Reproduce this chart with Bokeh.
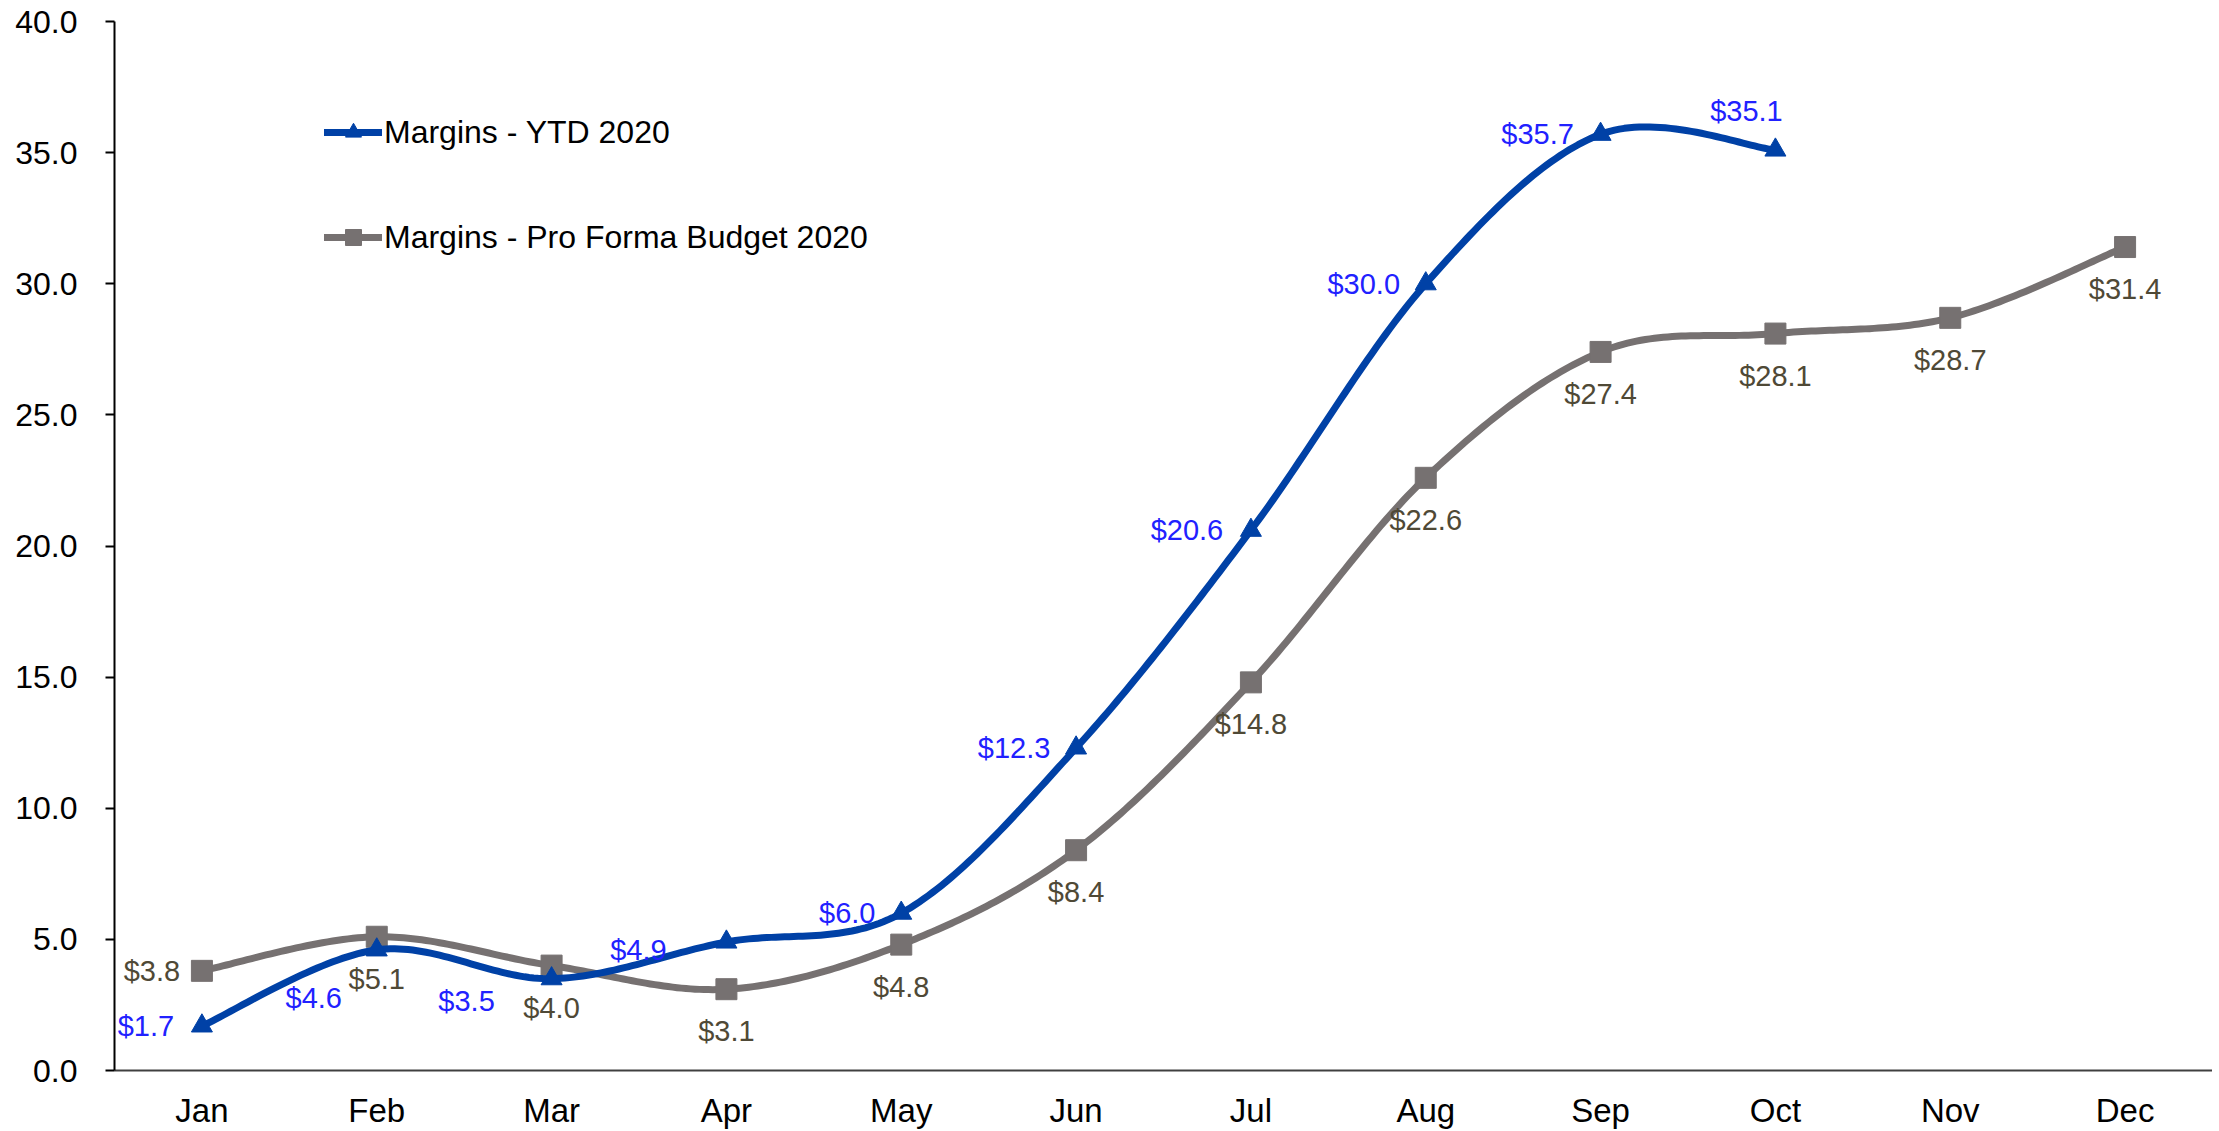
import numpy as np
from bokeh.plotting import figure
from bokeh.models import (Range1d, FactorRange, FixedTicker, NumeralTickFormatter,
                          ColumnDataSource, Legend, LegendItem)
from bokeh.core.properties import value
from bokeh.embed import file_html
from bokeh.resources import INLINE

# ---------------- data ----------------
months = ["Jan", "Feb", "Mar", "Apr", "May", "Jun", "Jul", "Aug", "Sep", "Oct", "Nov", "Dec"]
ytd_2020 = [1.7, 4.6, 3.5, 4.9, 6.0, 12.3, 20.6, 30.0, 35.7, 35.1]
budget_2020 = [3.8, 5.1, 4.0, 3.1, 4.8, 8.4, 14.8, 22.6, 27.4, 28.1, 28.7, 31.4]
y_ticks = [0, 5, 10, 15, 20, 25, 30, 35, 40]
series_names = ["Margins - YTD 2020", "Margins - Pro Forma Budget 2020"]

# label placement (screen px: dx, dy; +dy is downward) -- layout only
ytd_label_offsets = [(-56, 0), (-63, 48), (-85, 22), (-88, 8), (-54, 0),
                     (-62, 0), (-64, 0), (-62, 0), (-63, 0), (-29, -39)]
budget_label_offsets = [(-50, 0)] + [(0, 42)] * 11

# ---------------- styles ----------------
FONT = "Liberation Sans"
BLUE_LINE = "#0041A6"
BLUE_TEXT = "#2121FF"
GRAY_LINE = "#767171"
GRAY_TEXT = "#4F4936"


def smooth_curve(xs, ys, n=40):
    """Excel-like smoothed line (Catmull-Rom cubic Bezier segments)."""
    P = np.column_stack([xs, ys]).astype(float)
    m = len(P)
    out = []
    for i in range(m - 1):
        p0 = P[max(i - 1, 0)]
        p1 = P[i]
        p2 = P[i + 1]
        p3 = P[min(i + 2, m - 1)]
        c1 = p1 + (p2 - p0) / 6.0
        c2 = p2 - (p3 - p1) / 6.0
        t = np.linspace(0, 1, n)[:, None]
        seg = ((1 - t) ** 3) * p1 + 3 * ((1 - t) ** 2) * t * c1 + 3 * (1 - t) * t ** 2 * c2 + t ** 3 * p2
        if i > 0:
            seg = seg[1:]
        out.append(seg)
    arr = np.vstack(out)
    return arr[:, 0], arr[:, 1]


p = figure(width=2212, height=1131,
           x_range=FactorRange(*months, range_padding=0),
           y_range=Range1d(0, 40),
           output_backend="svg", toolbar_location=None,
           min_border_left=114, min_border_right=0,
           min_border_top=21, min_border_bottom=57)
p.outline_line_color = None
p.xgrid.grid_line_color = None
p.ygrid.grid_line_color = None
p.background_fill_color = "white"
p.border_fill_color = "white"


def add_series(vals, color, text_color, marker, offsets):
    xc = [i + 0.5 for i in range(len(vals))]
    sx, sy = smooth_curve(xc, vals)
    line = p.line(sx, sy, line_color=color, line_width=7,
                  line_join="round", line_cap="round")
    src = ColumnDataSource(dict(
        x=months[:len(vals)], y=vals,
        lbl=["$%.1f" % v for v in vals],
        dx=[o[0] for o in offsets[:len(vals)]],
        dy=[o[1] for o in offsets[:len(vals)]],
    ))
    mk = p.scatter("x", "y", source=src, marker=marker, size=21,
                   fill_color=color, line_color=color, line_width=1)
    p.text("x", "y", text="lbl", source=src, x_offset="dx", y_offset="dy",
           text_align="center", text_baseline="middle",
           text_font=value(FONT), text_font_size="29px", text_color=text_color)
    return line, mk


b_line, b_mk = add_series(budget_2020, GRAY_LINE, GRAY_TEXT, "square", budget_label_offsets)
y_line, y_mk = add_series(ytd_2020, BLUE_LINE, BLUE_TEXT, "triangle", ytd_label_offsets)

# axes
p.yaxis.ticker = FixedTicker(ticks=y_ticks)
p.yaxis.formatter = NumeralTickFormatter(format="0.0")
p.yaxis.major_label_text_font = FONT
p.yaxis.major_label_text_font_size = "32px"
p.yaxis.major_label_text_color = "black"
p.yaxis.major_tick_out = 9
p.yaxis.major_tick_in = 0
p.yaxis.minor_tick_out = 0
p.yaxis.minor_tick_in = 0
p.yaxis.major_tick_line_width = 2
p.yaxis.axis_line_width = 2
p.yaxis.axis_line_color = "black"
p.yaxis.major_tick_line_color = "black"
p.yaxis.major_label_standoff = 28

p.xaxis.major_label_text_font = FONT
p.xaxis.major_label_text_font_size = "33px"
p.xaxis.major_label_text_color = "black"
p.xaxis.major_tick_out = 0
p.xaxis.major_tick_in = 0
p.xaxis.axis_line_color = "#404040"
p.xaxis.axis_line_width = 2
p.xaxis.major_label_standoff = 21

legend = Legend(items=[LegendItem(label=series_names[0], renderers=[y_line, y_mk]),
                       LegendItem(label=series_names[1], renderers=[b_line, b_mk])],
                location=(210, 813), orientation="vertical",
                glyph_width=58, glyph_height=40, label_height=40, spacing=65,
                padding=0, margin=0, label_standoff=2,
                border_line_color=None, background_fill_alpha=0,
                label_text_font=FONT, label_text_font_size="32px",
                label_text_color="black")
p.add_layout(legend)

open("out.html", "w").write(file_html(p, INLINE))
